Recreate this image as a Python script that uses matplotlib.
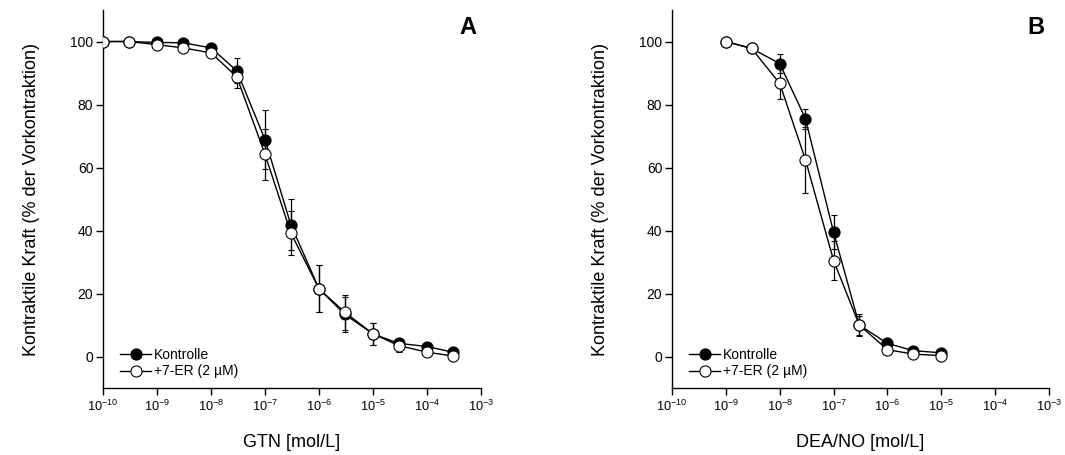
import matplotlib
matplotlib.use("Agg")
import matplotlib.pyplot as plt
from matplotlib.ticker import LogLocator, NullLocator, FuncFormatter
import math

plt.rcParams['font.family'] = ['Liberation Sans', 'DejaVu Sans']
plt.rcParams['mathtext.fontset'] = 'custom'
plt.rcParams['mathtext.rm'] = 'Liberation Sans'
plt.rcParams['mathtext.it'] = 'Liberation Sans'

# Panel A: GTN
gtn_conc = [1e-10, 3e-10, 1e-9, 3e-9, 1e-8, 3e-8, 1e-7, 3e-7, 1e-6, 3e-6, 1e-5, 3e-5, 1e-4, 3e-4]
gtn_ctrl = [100, 100, 99.7, 99.6, 98, 90.7, 68.9, 41.9, 21.5, 13.4, 7.2, 4.2, 3.2, 1.4]
gtn_ctrl_err = [0, 0, 0.5, 0.5, 0.8, 4, 9.5, 8, 7.5, 5.5, 3.5, 1.5, 1, 0.8]
gtn_er = [100, 100, 99, 98, 96.4, 88.8, 64.2, 39.3, 21.5, 14.1, 7.2, 3.5, 1.4, 0.2]
gtn_er_err = [0, 0, 0.5, 0.8, 1, 3.5, 8, 7, 7.5, 5.5, 3.5, 2, 1, 0.5]

# Panel B: DEA/NO
dea_conc = [1e-9, 3e-9, 1e-8, 3e-8, 1e-7, 3e-7, 1e-6, 3e-6, 1e-5]
dea_ctrl = [100, 97.8, 93, 75.5, 39.5, 10, 4.2, 1.9, 1.2]
dea_ctrl_err = [0, 0.5, 3, 3.2, 5.3, 3.5, 1, 0.5, 0.5]
dea_er = [100, 97.8, 86.7, 62.5, 30.5, 10, 2.2, 0.8, 0.3]
dea_er_err = [0, 0.5, 5, 10.5, 6.3, 3, 1, 0.5, 0.3]

labels = ["Kontrolle", "+7-ER (2 µM)"]
xlabels = ["GTN [mol/L]", "DEA/NO [mol/L]"]
letters = ["A", "B"]


def pow_fmt(v, pos):
    return r"10$^{\mathrm{%d}}$" % round(math.log10(v))


fig = plt.figure(figsize=(10.65, 4.55), dpi=100)
ax_a = fig.add_axes([0.0967, 0.147, 0.355, 0.831])
ax_b = fig.add_axes([0.631, 0.147, 0.354, 0.831])

panels = [
    (ax_a, gtn_conc, gtn_ctrl, gtn_ctrl_err, gtn_er, gtn_er_err),
    (ax_b, dea_conc, dea_ctrl, dea_ctrl_err, dea_er, dea_er_err),
]

for i, (ax, x, y1, e1, y2, e2) in enumerate(panels):
    ax.errorbar(x, y1, yerr=e1, color='black', lw=1, elinewidth=0.9, capsize=2,
                capthick=0.9, marker='o', ms=8, mfc='black', mec='black', mew=0.8,
                label=labels[0], zorder=2)
    ax.errorbar(x, y2, yerr=e2, color='black', lw=1, elinewidth=0.9, capsize=2,
                capthick=0.9, marker='o', ms=8, mfc='white', mec='black', mew=0.8,
                label=labels[1], zorder=3)
    ax.set_xscale('log')
    ax.set_xlim(1e-10, 1e-3)
    ax.set_ylim(-10, 110)
    ax.xaxis.set_major_locator(LogLocator(base=10, numticks=20))
    ax.xaxis.set_minor_locator(NullLocator())
    ax.xaxis.set_major_formatter(FuncFormatter(pow_fmt))
    ax.set_yticks([0, 20, 40, 60, 80, 100])
    for s in ['top', 'right']:
        ax.spines[s].set_visible(False)
    for s in ['left', 'bottom']:
        ax.spines[s].set_linewidth(1)
    ax.tick_params(direction='out', length=5, width=1, pad=2)
    ax.tick_params(axis='y', labelsize=10)
    ax.tick_params(axis='x', labelsize=9.2, pad=3)
    ax.set_xlabel(xlabels[i], fontsize=13, labelpad=14)
    ax.set_ylabel("Kontraktile Kraft (% der Vorkontraktion)", fontsize=13, labelpad=22)
    ax.text(0.964, 0.955, letters[i], transform=ax.transAxes, fontsize=17,
            fontweight='bold', ha='center', va='center')
    handles, labs = ax.get_legend_handles_labels()
    handles = [h[0] for h in handles]
    ax.legend(handles, labs, loc='lower left', bbox_to_anchor=(0.02, 0.0),
              frameon=False, fontsize=10, handlelength=2.2, handletextpad=0.2,
              labelspacing=0.15, borderaxespad=0.3)

fig.savefig("out.png", dpi=100)
